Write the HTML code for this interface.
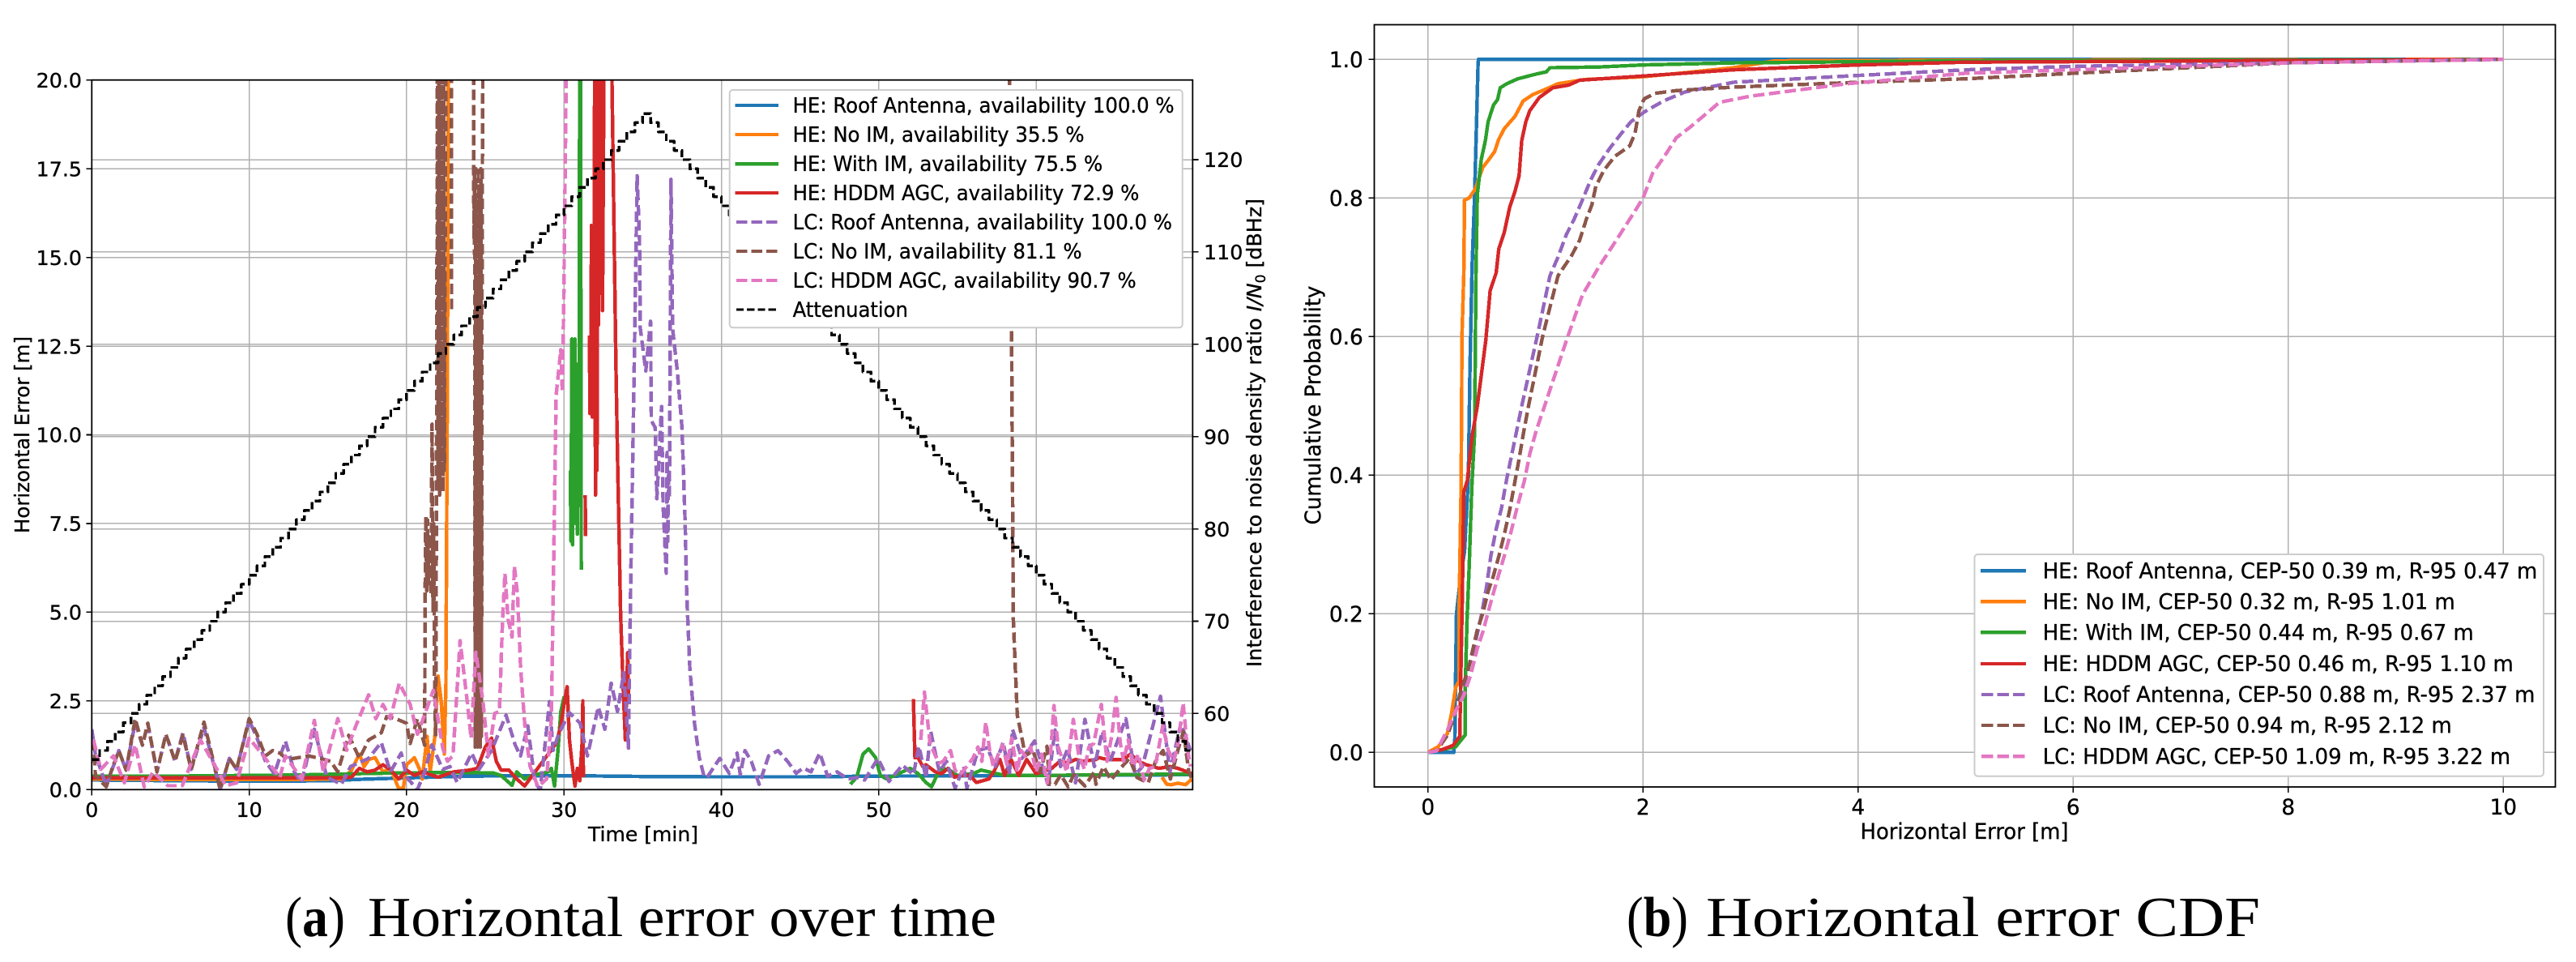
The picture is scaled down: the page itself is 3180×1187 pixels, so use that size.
<!DOCTYPE html>
<html lang="en">
<head>
<meta charset="utf-8">
<title>Horizontal error figures</title>
<style>
html,body{margin:0;padding:0;background:#fff;width:3180px;height:1187px;overflow:hidden}
svg{display:block}
text{font-family:"DejaVu Sans","Liberation Sans",sans-serif;fill:#000;stroke:#000;stroke-width:.35px}
.cap{font-family:"Liberation Serif",serif;stroke:none}
path,line{shape-rendering:crispEdges}
</style>
</head>
<body>
<svg id="fig" xmlns="http://www.w3.org/2000/svg" width="3180" height="1187" viewBox="0 0 3180 1187">
  <defs>
    <clipPath id="clipA"><rect x="113.3" y="98.7" width="1359" height="875.6"/></clipPath>
    <clipPath id="clipB"><rect x="1696.5" y="30.5" width="1458" height="940.5"/></clipPath>
  </defs>
  <g id="gridA"></g>
  <g id="gridB"></g>
  <g id="seriesA" clip-path="url(#clipA)" fill="none"></g>
  <g id="seriesB" clip-path="url(#clipB)" fill="none"></g>
  <g id="ticks"></g>

  <rect x="113.3" y="98.7" width="1359" height="875.6" fill="none" stroke="#000" stroke-width="1.8"/>
  <rect x="1696.5" y="30.5" width="1458" height="940.5" fill="none" stroke="#000" stroke-width="1.8"/>

  <text transform="translate(36,536.5) rotate(-90)" text-anchor="middle" font-size="25.3" textLength="243" lengthAdjust="spacingAndGlyphs">Horizontal Error [m]</text>
  <text x="794" y="1038" text-anchor="middle" font-size="25.3" textLength="136" lengthAdjust="spacingAndGlyphs">Time [min]</text>
  <text transform="translate(1557,534) rotate(-90)" text-anchor="middle" font-size="25.3">Interference to noise density ratio <tspan font-style="italic">I/N</tspan><tspan font-size="17" dy="5">0</tspan><tspan dy="-5"> [dBHz]</tspan></text>
  <text transform="translate(1630,500) rotate(-90)" text-anchor="middle" font-size="26.3" textLength="295" lengthAdjust="spacingAndGlyphs">Cumulative Probability</text>
  <text x="2425" y="1035" text-anchor="middle" font-size="26.3" textLength="257" lengthAdjust="spacingAndGlyphs">Horizontal Error [m]</text>

  <g>
    <rect x="900.7" y="111" width="559" height="293.3" rx="4" fill="#fff" stroke="#ccc" stroke-width="2"/>
    <g><line x1="907.5" x2="961" y1="130" y2="130" stroke="#1f77b4" stroke-width="4.4"/><text x="978.6" y="139" font-size="25.6" textLength="471" lengthAdjust="spacingAndGlyphs">HE: Roof Antenna, availability 100.0 %</text></g>
    <g><line x1="907.5" x2="961" y1="166" y2="166" stroke="#ff7f0e" stroke-width="4.4"/><text x="978.6" y="175" font-size="25.6" textLength="360" lengthAdjust="spacingAndGlyphs">HE: No IM, availability 35.5 %</text></g>
    <g><line x1="907.5" x2="961" y1="202.3" y2="202.3" stroke="#2ca02c" stroke-width="4.4"/><text x="978.6" y="211" font-size="25.6" textLength="382.6" lengthAdjust="spacingAndGlyphs">HE: With IM, availability 75.5 %</text></g>
    <g><line x1="907.5" x2="961" y1="238" y2="238" stroke="#d62728" stroke-width="4.4"/><text x="978.6" y="247" font-size="25.6" textLength="427.7" lengthAdjust="spacingAndGlyphs">HE: HDDM AGC, availability 72.9 %</text></g>
    <g><line x1="909" x2="960" y1="274" y2="274" stroke="#9467bd" stroke-width="4.4" stroke-dasharray="13.5 5"/><text x="978.6" y="283" font-size="25.6" textLength="468.4" lengthAdjust="spacingAndGlyphs">LC: Roof Antenna, availability 100.0 %</text></g>
    <g><line x1="909" x2="960" y1="310" y2="310" stroke="#8c564b" stroke-width="4.4" stroke-dasharray="13.5 5"/><text x="978.6" y="319" font-size="25.6" textLength="357" lengthAdjust="spacingAndGlyphs">LC: No IM, availability 81.1 %</text></g>
    <g><line x1="909" x2="960" y1="346" y2="346" stroke="#e377c2" stroke-width="4.4" stroke-dasharray="13.5 5"/><text x="978.6" y="355" font-size="25.6" textLength="424" lengthAdjust="spacingAndGlyphs">LC: HDDM AGC, availability 90.7 %</text></g>
    <g><line x1="909" x2="960" y1="382" y2="382" stroke="#000" stroke-width="3.4" stroke-dasharray="9.2 4"/><text x="978.6" y="391" font-size="25.6" textLength="142.3" lengthAdjust="spacingAndGlyphs">Attenuation</text></g>
  </g>

  <g>
    <rect x="2437.5" y="684" width="702.5" height="273.7" rx="4" fill="#fff" stroke="#ccc" stroke-width="2"/>
    <g><line x1="2444.8" x2="2501" y1="704.3" y2="704.3" stroke="#1f77b4" stroke-width="4.4"/><text x="2521.7" y="713.5" font-size="26.3" textLength="610.6" lengthAdjust="spacingAndGlyphs">HE: Roof Antenna, CEP-50 0.39 m, R-95 0.47 m</text></g>
    <g><line x1="2444.8" x2="2501" y1="742.3" y2="742.3" stroke="#ff7f0e" stroke-width="4.4"/><text x="2521.7" y="751.5" font-size="26.3" textLength="509" lengthAdjust="spacingAndGlyphs">HE: No IM, CEP-50 0.32 m, R-95 1.01 m</text></g>
    <g><line x1="2444.8" x2="2501" y1="780.3" y2="780.3" stroke="#2ca02c" stroke-width="4.4"/><text x="2521.7" y="789.5" font-size="26.3" textLength="532" lengthAdjust="spacingAndGlyphs">HE: With IM, CEP-50 0.44 m, R-95 0.67 m</text></g>
    <g><line x1="2444.8" x2="2501" y1="819" y2="819" stroke="#d62728" stroke-width="4.4"/><text x="2521.7" y="828" font-size="26.3" textLength="581" lengthAdjust="spacingAndGlyphs">HE: HDDM AGC, CEP-50 0.46 m, R-95 1.10 m</text></g>
    <g><line x1="2446" x2="2500" y1="857" y2="857" stroke="#9467bd" stroke-width="4.4" stroke-dasharray="14.5 5"/><text x="2521.7" y="866" font-size="26.3" textLength="607.7" lengthAdjust="spacingAndGlyphs">LC: Roof Antenna, CEP-50 0.88 m, R-95 2.37 m</text></g>
    <g><line x1="2446" x2="2500" y1="895" y2="895" stroke="#8c564b" stroke-width="4.4" stroke-dasharray="14.5 5"/><text x="2521.7" y="904" font-size="26.3" textLength="505" lengthAdjust="spacingAndGlyphs">LC: No IM, CEP-50 0.94 m, R-95 2.12 m</text></g>
    <g><line x1="2446" x2="2500" y1="933.3" y2="933.3" stroke="#e377c2" stroke-width="4.4" stroke-dasharray="14.5 5"/><text x="2521.7" y="942.5" font-size="26.3" textLength="577.4" lengthAdjust="spacingAndGlyphs">LC: HDDM AGC, CEP-50 1.09 m, R-95 3.22 m</text></g>
  </g>

  <g>
    <text class="cap" x="352" y="1155" font-size="70" textLength="74" lengthAdjust="spacingAndGlyphs">(<tspan font-weight="bold">a</tspan>)</text>
    <text class="cap" x="454" y="1155" font-size="70" textLength="776" lengthAdjust="spacingAndGlyphs">Horizontal error over time</text>
  </g>
  <g>
    <text class="cap" x="2008" y="1155" font-size="70" textLength="76" lengthAdjust="spacingAndGlyphs">(<tspan font-weight="bold">b</tspan>)</text>
    <text class="cap" x="2106" y="1155" font-size="70" textLength="684" lengthAdjust="spacingAndGlyphs">Horizontal error CDF</text>
  </g>
</svg>

<script>
/* ---------- Panel (a): tick labels ---------- */
const timeTicks = [0, 10, 20, 30, 40, 50, 60];
const errorTicks = [0, 2.5, 5, 7.5, 10, 12.5, 15, 17.5, 20];
const errorTickLabels = ['0.0', '2.5', '5.0', '7.5', '10.0', '12.5', '15.0', '17.5', '20.0'];
const dbTicks = [60, 70, 80, 90, 100, 110, 120];

/* ---------- Panel (a): series (null = outage) ---------- */
const heRoofTime = [0, 3, 6, 9, 12, 15, 17, 20, 23, 26, 29, 31, 35, 40, 45, 50, 55, 60, 65, 69.9];
const heRoofError = [0.27, 0.26, 0.25, 0.24, 0.24, 0.25, 0.29, 0.33, 0.37, 0.39, 0.39, 0.39, 0.37, 0.36, 0.36, 0.38, 0.39, 0.4, 0.41, 0.42];

const heNoImTime = [0, 4, 8, 12, 16, 16.5, 17, 17.3, 17.6, 18, 18.5, 19, 19.3, 19.5, 19.8, 20, 20.5, 20.8, 21, 21.3, 21.5, 21.8, 22, 22.2, 22.4, 22.5, 22.6, 22.65, 22.7, 68, 68.3, 68.6, 69, 69.5, 69.9];
const heNoImError = [0.3, 0.29, 0.28, 0.28, 0.3, 0.55, 1.0, 0.65, 0.85, 0.9, 0.5, 0.6, 0.25, 0.03, 0.05, 0.7, 0.9, 0.6, 0.3, 1.5, 0.5, 1.5, 3.2, 2.5, 1.0, 3, 12, 21, null, 0.35, 0.15, 0.14, 0.18, 0.14, 0.3];

const heWithImTime = [0, 5, 10, 14, 16, 18, 20, 22, 24, 25.5, 26, 26.7, 27, 27.5, 28, 29, 29.2, 29.4, 29.6, 29.8, 30, 30.1, 30.2, 30.4, 30.45, 30.5, 30.55, 30.6, 30.65, 30.7, 30.75, 30.8, 30.85, 30.9, 30.95, 31.0, 31.05, 31.1, 31.15, 48.2, 48.6, 49, 49.36, 49.8, 50.1, 50.5, 51, 52, 52.5, 53, 53.35, 53.7, 54, 54.5, 55, 56, 56.5, 57, 58, 60, 65, 69.9];
const heWithImError = [0.38, 0.38, 0.4, 0.42, 0.44, 0.46, 0.47, 0.48, 0.48, 0.47, 0.4, 0.12, 0.5, 0.3, 0.4, 0.5, 0.6, 0.1, 1.0, 2.2, 2.6, 2.4, null, 9, 7, 12.7, 6.9, 12.5, 8, 12.7, 7.5, 10, 7.2, 12, 8, 20.5, 21, 6.2, null, 0.15, 0.35, 1.0, 1.15, 0.9, 0.4, 0.3, 0.4, 0.6, 0.45, 0.2, 0.08, 0.4, 0.6, 0.55, 0.4, 0.45, 0.55, 0.5, 0.4, 0.4, 0.42, 0.44];

const heHddmTime = [0, 4, 8, 12, 16, 16.5, 17, 17.5, 18, 18.5, 19, 19.5, 20, 20.5, 21, 22, 23, 24, 24.5, 25, 25.4, 25.7, 26, 26.5, 27, 27.5, 28, 28.5, 29, 29.5, 29.8, 30, 30.2, 30.35, 30.5, 30.7, 30.85, 31.0, 31.15, 31.2, 31.22, 31.25, 31.33, 31.35, 31.37, 31.6, 31.62, 31.65, 31.7, 31.75, 31.8, 31.85, 31.9, 31.95, 32.0, 32.05, 32.1, 32.15, 32.2, 32.25, 32.3, 32.35, 32.45, 32.55, 33.0, 33.05, 33.3, 33.42, 33.6, 33.75, 33.9, 34.05, 34.1, 34.15, 52.2, 52.3, 52.5, 52.8, 53, 53.6, 54, 54.4, 54.8, 55.2, 55.8, 56.2, 57, 57.3, 57.7, 58, 58.4, 58.9, 59.4, 60, 61, 61.5, 62, 62.5, 63, 63.8, 64, 64.5, 65.5, 66, 66.5, 67, 67.8, 68.5, 69, 69.9];
const heHddmError = [0.33, 0.33, 0.33, 0.33, 0.33, 0.35, 0.6, 0.5, 0.55, 0.7, 0.55, 0.3, 0.55, 0.4, 0.5, 0.35, 0.5, 0.55, 0.6, 1.2, 1.45, 0.8, 0.55, 0.55, 0.3, 0.1, 0.4, 0.7, 1.0, 1.3, 1.8, 2.4, 2.9, 1.4, 0.78, 0.1, 0.6, 0.25, 1.3, 2.5, 0.8, 0.35, null, 8.3, 7.15, null, 12.8, 10.6, 11.5, 15.9, 10.5, 15.8, 11, 20.5, 8.3, 20.5, 9, 20.5, 13.1, 20.5, 21, 20.5, 13.5, 21, 21, 20, 12, 9, 4.94, 3, 1.4, 3.86, 2.6, null, 2.55, 0.9, 0.9, 0.65, 0.7, 0.5, 0.45, 0.6, 0.35, 0.4, 0.4, 0.2, 0.3, 0.5, 0.85, 0.4, 0.85, 0.4, 0.85, 0.45, 0.6, 0.8, 0.75, 0.85, 0.8, 0.85, 0.9, 0.85, 0.85, 1.0, 0.8, 0.7, 0.6, 0.65, 0.6, 0.45];

const lcRoofTime = [0, 0.23, 0.92, 1.72, 2.18, 2.76, 3.22, 3.56, 4.14, 4.71, 5.29, 5.79, 6.32, 7.13, 8.05, 8.16, 8.74, 9.2, 10, 10.46, 11.03, 11.6, 12.3, 12.87, 13.33, 14.14, 14.94, 15.86, 16.44, 17.59, 18.39, 18.97, 19.66, 20, 20.69, 21.15, 21.61, 22.3, 22.76, 23.22, 24.14, 24.6, 25.4, 26.32, 26.9, 27.24, 27.7, 28.16, 28.5, 29.08, 29.31, 29.66, 30.34, 31.03, 31.49, 32.18, 32.6, 33, 33.4, 33.8, 34.1, 34.25, 34.45, 34.65, 34.8, 34.85, 35.2, 35.5, 35.55, 35.8, 35.9, 36.2, 36.3, 36.5, 36.55, 36.6, 36.65, 36.7, 36.8, 36.9, 37.2, 37.5, 37.7, 37.8, 38, 38.3, 38.6, 38.9, 39.1, 39.9, 40.5, 41, 41.2, 41.5, 41.9, 42.4, 43, 43.6, 44.2, 44.75, 45.2, 45.7, 46.25, 46.75, 47.35, 48.05, 48.65, 49.1, 49.95, 50.65, 51.5, 52.2, 52.55, 53, 53.3, 53.85, 54.3, 54.85, 55.4, 55.6, 56.3, 56.9, 57.4, 57.9, 58.3, 58.5, 59.1, 59.9, 60.75, 61.2, 61.55, 62, 62.5, 63.1, 63.7, 64.2, 64.7, 65.7, 66.3, 66.75, 67.9, 68.5, 69.2, 69.8];
const lcRoofError = [1.7, 1.0, 0.1, 1.1, 0.55, 1.9, 1.25, 1.85, 0.5, 1.56, 0.8, 1.6, 0.57, 1.75, 0.2, 0, 0.88, 0.57, 1.95, 1.5, 0.8, 0.45, 1.37, 0.5, 0.2, 1.7, 0.35, 0.15, 0.65, 0.88, 1.33, 0.5, 1.03, 0.35, 0, 0.5, 1.26, 0.57, 0.65, 0.2, 1.03, 0.57, 1.1, 2.1, 1.26, 0.95, 1.8, 0.2, 0, 2.48, 1.1, 1.56, 2.17, 1.87, 0.95, 2.33, 1.7, 3.0, 2.2, 3.3, 1.17, 6.1, 11.5, 17.3, 15.5, 13, 11.8, 13.2, 10.4, 10.2, 8.2, 10.8, 8, 6.1, 9.5, 7, 9, 8.2, 17.2, 13, 11.8, 10.2, 7.5, 5.5, 3.4, 1.85, 0.9, 0.37, 0.35, 0.88, 0.46, 1.03, 0.42, 1.1, 0.8, 0.15, 0.95, 1.1, 0.8, 0.46, 0.61, 0.5, 1.03, 0.38, 0.5, 0.3, 0.34, 0.27, 0.88, 0.23, 0.69, 0.42, 1.22, 0.34, 1.64, 0.5, 0.8, 0.04, 0.65, 0.04, 1.1, 1.18, 0.65, 1.34, 0.42, 1.7, 0.88, 1.37, 0.15, 1.68, 0.65, 1.15, 0.19, 1.98, 0.65, 1.64, 0.8, 2.0, 0.42, 0.65, 2.63, 0.5, 1.87, 1.1];

const lcNoImTime = [0.11, 0.23, 0.92, 1.3, 1.72, 2.18, 2.76, 3.22, 3.56, 4.14, 4.71, 5.29, 5.79, 6.32, 7.13, 8.05, 8.16, 8.74, 9.2, 10, 10.46, 11.03, 11.49, 11.95, 12.41, 13.1, 13.79, 14.48, 15.17, 15.63, 16.32, 17.01, 17.59, 18.39, 18.74, 19.31, 20, 20.23, 20.69, 21.15, 21.18, 21.22, 21.28, 21.33, 21.4, 21.48, 21.55, 21.62, 21.68, 21.72, 21.78, 21.85, 21.9, 21.96, 22.0, 22.05, 22.1, 22.15, 22.2, 22.25, 22.3, 22.35, 22.4, 22.5, 22.85, 22.86, 22.9, 24.25, 24.28, 24.32, 24.36, 24.4, 24.44, 24.48, 24.52, 24.56, 24.6, 24.64, 24.68, 24.72, 24.76, 24.8, 24.85, 24.9, 58.3, 58.45, 58.55, 58.8, 59.08, 59.31, 59.79, 60.26, 60.69, 60.85, 61.2, 61.56, 62.03, 62.39, 63.1, 63.69, 63.8, 64.28, 64.75, 65.46, 65.93, 66.41, 67.12, 67.59, 68.06, 68.53, 69.0, 69.36, 69.7, 69.9];
const lcNoImError = [1.4, 0.4, 0.08, 0.6, 1.1, 0.55, 2.0, 1.25, 1.87, 0.5, 1.56, 0.8, 1.53, 0.57, 1.9, 0.2, 0, 0.88, 0.57, 2.0, 1.6, 0.95, 1.1, 1.03, 0.85, 0.9, 0.95, 0.88, 0.8, 0.5, 1.53, 0.88, 1.4, 1.6, 2.06, 2.0, 1.87, 1.3, 2.0, 1.25, 5.5, 7.7, 5.6, 7.6, 5.8, 7.2, 5.5, 10.3, 5, 7.5, 3, 1.5, 8.3, 20.5, 8.5, 20.5, 8.3, 20.5, 9, 20.5, 8.4, 20.5, 9, 21, 21, 13.5, null, 21, 15.5, 17.5, 1.2, 17.5, 1.5, 16.5, 1.2, 17.5, 1.3, 17, 1.2, 17.5, 1.5, 16, 20.5, null, 21, 12, 4.8, 2.1, 1.5, 0.95, 1.1, 0.5, 1.22, 0.15, 0.15, 0.42, 0.08, 0.42, 0.1, 0.5, 0.15, 0.65, 0.27, 0.65, 0.88, 0.34, 0.19, 0.8, 1.1, 0.3, 1.1, 1.64, 0.5, 0.3];

const lcHddmTime = [0.11, 0.57, 1.38, 2.07, 2.76, 3.33, 3.9, 4.83, 5.75, 6.9, 8.05, 8.5, 9.2, 10, 11.03, 11.95, 12.3, 13.33, 14.14, 14.71, 15.63, 16.2, 16.78, 17.59, 18.05, 18.5, 18.97, 19.54, 20.23, 20.69, 21.26, 21.7, 22.3, 22.6, 22.95, 23.4, 23.85, 24.1, 24.4, 24.85, 25.2, 25.6, 25.9, 26.1, 26.25, 26.45, 26.7, 26.85, 27.05, 27.25, 27.55, 27.85, 28.35, 28.9, 29.2, 29.4, 29.5, 29.8, 29.9, 30, 30.15, 30.2, 52.67, 52.9, 53.26, 53.6, 53.85, 54.1, 54.56, 54.85, 55.15, 55.5, 55.98, 56.3, 56.55, 56.8, 57.05, 57.28, 57.6, 57.87, 58.15, 58.45, 58.8, 59.05, 59.3, 59.65, 60, 60.35, 60.7, 60.9, 61.13, 61.4, 61.65, 61.95, 62.36, 62.7, 63.07, 63.35, 63.66, 64.14, 64.5, 64.8, 65.08, 65.35, 65.56, 65.85, 66.15, 66.5, 66.86, 67.2, 67.57, 68.04, 68.4, 68.75, 69.05, 69.34, 69.6, 69.8];
const lcHddmError = [1.4, 0.57, 0.95, 0.19, 1.26, 0.08, 0.5, 0.11, 0.11, 1.4, 0.5, 0.11, 0.19, 1.45, 0.88, 0.34, 0.95, 0.3, 1.95, 0.5, 2.0, 1.11, 1.8, 2.67, 2.0, 2.4, 2.0, 3.0, 2.4, 1.56, 2.25, 2.8, 1.17, 0.8, 0.95, 4.2, 2.5, 1.45, 3.87, 2.5, 0.95, 2.15, 2.2, 4.8, 6.1, 4.8, 4.3, 6.3, 5.5, 3.4, 1.6, 0.65, 0.08, 0.3, 2.0, 8, 11.1, 12.4, 11.2, 14.2, 20.5, null, 1.4, 2.75, 1.3, 0.95, 0.75, 0.8, 1.1, 0.55, 0.42, 0.6, 0.88, 1.2, 0.8, 1.9, 1.1, 0.65, 1.0, 1.26, 0.7, 1.45, 0.5, 1.1, 0.95, 1.2, 0.5, 1.0, 0.19, 0.9, 2.37, 1.2, 0.88, 0.5, 1.98, 1.0, 0.57, 1.2, 1.3, 2.4, 0.8, 1.5, 2.6, 1.3, 0.8, 1.4, 0.65, 1.0, 0.27, 0.6, 0.65, 1.8, 1.1, 0.8, 1.4, 2.44, 1.2, 0.65];

const attenuationTime = [0,0.5,1,1.5,2,2.5,3,3.5,4,4.5,5,5.5,6,6.5,7,7.5,8,8.5,9,9.5,10,10.5,11,11.5,12,12.5,13,13.5,14,14.5,15,15.5,16,16.5,17,17.5,18,18.5,19,19.5,20,20.5,21,21.5,22,22.5,23,23.5,24,24.5,25,25.5,26,26.5,27,27.5,28,28.5,29,29.5,30,30.5,31,31.5,32,32.5,33,33.5,34,34.5,35,35.5,36,36.5,37,37.5,38,38.5,39,39.5,40,40.5,41,41.5,42,42.5,43,43.5,44,44.5,45,45.5,46,46.5,47,47.5,48,48.5,49,49.5,50,50.5,51,51.5,52,52.5,53,53.5,54,54.5,55,55.5,56,56.5,57,57.5,58,58.5,59,59.5,60,60.5,61,61.5,62,62.5,63,63.5,64,64.5,65,65.5,66,66.5,67,67.5,68,68.5,69,69.5,70];
const attenuationDb = [55,56,57,58,59,60,61,62,63,64,65,66,67,68,69,70,71,72,73,74,75,76,77,78,79,80,81,82,83,84,85,86,87,88,89,90,91,92,93,94,95,96,97,98,99,100,101,102,103,104,105,106,107,108,109,110,111,112,113,114,115,116,117,118,119,120,121,122,123,124,125,124,123,122,121,120,119,118,117,116,115,114,113,112,111,110,109,108,107,106,105,104,103,102,101,100,99,98,97,96,95,94,93,92,91,90,89,88,87,86,85,84,83,82,81,80,79,78,77,76,75,74,73,72,71,70,69,68,67,66,65,64,63,62,61,60,59,58,57,56,55];

/* ---------- Panel (b): tick labels ---------- */
const cdfErrorTicks = [0, 2, 4, 6, 8, 10];
const cdfProbTicks = [0, 0.2, 0.4, 0.6, 0.8, 1.0];
const cdfProbTickLabels = ['0.0', '0.2', '0.4', '0.6', '0.8', '1.0'];

/* ---------- Panel (b): CDF curves ---------- */
const cdfHeRoofX = [0, 0.24, 0.25, 0.255, 0.265, 0.3, 0.34, 0.36, 0.376, 0.39, 0.41, 0.433, 0.45, 0.466, 0.47, 10];
const cdfHeRoofP = [0, 0, 0.02, 0.09, 0.2, 0.25, 0.29, 0.35, 0.4, 0.55, 0.7, 0.8, 0.9, 0.995, 1, 1];

const cdfHeNoImX = [0, 0.095, 0.18, 0.22, 0.258, 0.29, 0.29, 0.308, 0.313, 0.316, 0.333, 0.34, 0.383, 0.44, 0.509, 0.559, 0.62, 0.659, 0.709, 0.81, 0.885, 0.972, 1.11, 1.21, 1.46, 2.0, 2.34, 2.84, 3.23, 5, 10];
const cdfHeNoImP = [0, 0.008, 0.027, 0.057, 0.094, 0.103, 0.21, 0.384, 0.5, 0.6, 0.69, 0.797, 0.8, 0.813, 0.844, 0.854, 0.867, 0.885, 0.9, 0.918, 0.94, 0.949, 0.958, 0.965, 0.971, 0.975, 0.98, 0.988, 0.998, 0.999, 1];

const cdfHeWithImX = [0, 0.258, 0.346, 0.346, 0.363, 0.383, 0.408, 0.434, 0.446, 0.459, 0.496, 0.534, 0.559, 0.609, 0.647, 0.672, 0.734, 0.835, 1.01, 1.1, 1.135, 1.586, 2, 2.84, 5, 10];
const cdfHeWithImP = [0, 0.008, 0.025, 0.09, 0.19, 0.267, 0.384, 0.462, 0.688, 0.805, 0.856, 0.883, 0.91, 0.934, 0.942, 0.959, 0.965, 0.972, 0.979, 0.982, 0.988, 0.989, 0.992, 0.995, 0.998, 1];

const cdfHeHddmX = [0, 0.133, 0.233, 0.296, 0.303, 0.32, 0.333, 0.366, 0.408, 0.459, 0.538, 0.578, 0.634, 0.659, 0.709, 0.759, 0.81, 0.847, 0.872, 0.91, 0.947, 1.035, 1.16, 1.31, 1.41, 2, 2.84, 4, 5, 10];
const cdfHeHddmP = [0, 0.004, 0.01, 0.023, 0.09, 0.228, 0.376, 0.392, 0.454, 0.5, 0.595, 0.666, 0.692, 0.727, 0.75, 0.786, 0.81, 0.832, 0.883, 0.91, 0.926, 0.945, 0.959, 0.963, 0.97, 0.976, 0.985, 0.992, 0.996, 1];

const cdfLcRoofX = [0, 0.08, 0.183, 0.245, 0.308, 0.358, 0.434, 0.496, 0.546, 0.584, 0.634, 0.684, 0.734, 0.797, 0.872, 1.015, 1.135, 1.21, 1.286, 1.361, 1.436, 1.51, 1.586, 1.687, 1.787, 1.887, 2.01, 2.19, 2.39, 2.84, 3.9, 5, 6, 10];
const cdfLcRoofP = [0, 0.002, 0.025, 0.053, 0.084, 0.111, 0.154, 0.197, 0.24, 0.283, 0.322, 0.353, 0.396, 0.443, 0.5, 0.6, 0.688, 0.715, 0.747, 0.77, 0.797, 0.825, 0.848, 0.871, 0.891, 0.91, 0.924, 0.94, 0.953, 0.967, 0.976, 0.985, 0.99, 1];

const cdfLcNoImX = [0, 0.08, 0.183, 0.245, 0.308, 0.37, 0.408, 0.459, 0.509, 0.559, 0.609, 0.659, 0.709, 0.759, 0.81, 0.847, 0.885, 0.935, 1.066, 1.15, 1.21, 1.336, 1.41, 1.474, 1.524, 1.561, 1.636, 1.737, 1.875, 1.925, 1.962, 2.01, 2.11, 2.31, 2.84, 4, 5, 6, 8, 10];
const cdfLcNoImP = [0, 0.002, 0.025, 0.053, 0.09, 0.117, 0.142, 0.177, 0.2, 0.232, 0.255, 0.283, 0.314, 0.349, 0.392, 0.423, 0.458, 0.5, 0.6, 0.652, 0.688, 0.717, 0.739, 0.77, 0.79, 0.817, 0.84, 0.86, 0.875, 0.893, 0.926, 0.943, 0.951, 0.955, 0.96, 0.967, 0.972, 0.98, 0.995, 1];

const cdfLcHddmX = [0, 0.08, 0.183, 0.258, 0.333, 0.396, 0.459, 0.509, 0.571, 0.634, 0.709, 0.772, 0.835, 0.897, 0.947, 1.01, 1.085, 1.3, 1.436, 1.587, 1.755, 1.92, 2, 2.09, 2.19, 2.31, 2.44, 2.59, 2.71, 2.84, 3, 3.9, 5, 6, 8, 10];
const cdfLcHddmP = [0, 0.002, 0.033, 0.06, 0.082, 0.111, 0.15, 0.173, 0.209, 0.244, 0.283, 0.318, 0.357, 0.392, 0.431, 0.466, 0.5, 0.6, 0.66, 0.7, 0.74, 0.78, 0.8, 0.836, 0.858, 0.887, 0.9025, 0.922, 0.938, 0.942, 0.947, 0.965, 0.98, 0.985, 0.995, 1];

/* ---------- Axis functions ---------- */
function xTime(t) { return 113.3 + t * 19.43; }
function yError(v) { return 974.3 - v * 43.78; }
function yDb(d) { return 880.4 - (d - 60) * 11.39; }
function xCdf(e) { return 1762.8 + e * 132.75; }
function yCdf(p) { return 928.3 - p * 855; }

const NS = 'http://www.w3.org/2000/svg';

function linePath(xs, ys, fx, fy) {
  let d = '';
  let pen = false;
  for (let i = 0; i < xs.length; i++) {
    if (ys[i] === null) { pen = false; continue; }
    d += (pen ? 'L' : 'M') + fx(xs[i]).toFixed(2) + ' ' + fy(ys[i]).toFixed(2);
    pen = true;
  }
  return d;
}

function stairPath(xs, ys, fx, fy) {
  let d = 'M' + fx(xs[0]).toFixed(2) + ' ' + fy(ys[0]).toFixed(2);
  for (let i = 1; i < xs.length; i++) {
    d += 'H' + fx(xs[i]).toFixed(2) + 'V' + fy(ys[i]).toFixed(2);
  }
  return d;
}

function addPath(parentId, name, d, color, width, dash) {
  const el = document.createElementNS(NS, 'path');
  
  
  el.setAttribute('d', d);
  el.setAttribute('stroke', color);
  el.setAttribute('stroke-width', width);
  el.setAttribute('stroke-linejoin', 'round');
  if (dash) { el.setAttribute('stroke-dasharray', dash); }
  document.getElementById(parentId).appendChild(el);
}

function addRule(parentId, name, x1, y1, x2, y2, color, width) {
  const el = document.createElementNS(NS, 'line');
  
  
  el.setAttribute('x1', x1);
  el.setAttribute('y1', y1);
  el.setAttribute('x2', x2);
  el.setAttribute('y2', y2);
  el.setAttribute('stroke', color);
  el.setAttribute('stroke-width', width);
  document.getElementById(parentId).appendChild(el);
}

function addLabel(name, x, y, anchor, size, label) {
  const el = document.createElementNS(NS, 'text');
  
  
  el.setAttribute('x', x);
  el.setAttribute('y', y);
  el.setAttribute('text-anchor', anchor);
  el.setAttribute('font-size', size);
  el.textContent = label;
  document.getElementById('ticks').appendChild(el);
}

const GRID = '#b0b0b0';

/* Panel (a) grid, ticks, labels */
timeTicks.forEach(function (t) {
  addRule('gridA', 'time-gridline', xTime(t), 98.7, xTime(t), 974.3, GRID, 1.5);
  addRule('ticks', 'time-tick', xTime(t), 974.3, xTime(t), 981.3, '#000', 1.6);
  addLabel('time-tick-label', xTime(t), 1008, 'middle', 25.3, String(t));
});
errorTicks.forEach(function (v, i) {
  addRule('gridA', 'error-gridline', 113.3, yError(v), 1472.3, yError(v), GRID, 1.5);
  addRule('ticks', 'error-tick', 106.3, yError(v), 113.3, yError(v), '#000', 1.6);
  addLabel('error-tick-label', 101, yError(v) + 9.2, 'end', 25.3, errorTickLabels[i]);
});
dbTicks.forEach(function (d) {
  addRule('gridA', 'interference-gridline', 113.3, yDb(d), 1472.3, yDb(d), GRID, 1.5);
  addRule('ticks', 'interference-tick', 1472.3, yDb(d), 1479.3, yDb(d), '#000', 1.6);
  addLabel('interference-tick-label', 1486, yDb(d) + 9.2, 'start', 25.3, String(d));
});

/* Panel (b) grid, ticks, labels */
cdfErrorTicks.forEach(function (e) {
  addRule('gridB', 'cdf-error-gridline', xCdf(e), 30.5, xCdf(e), 971, GRID, 1.5);
  addRule('ticks', 'cdf-error-tick', xCdf(e), 971, xCdf(e), 978, '#000', 1.6);
  addLabel('cdf-error-tick-label', xCdf(e), 1005, 'middle', 26.3, String(e));
});
cdfProbTicks.forEach(function (p, i) {
  addRule('gridB', 'cdf-probability-gridline', 1696.5, yCdf(p), 3154.5, yCdf(p), GRID, 1.5);
  addRule('ticks', 'cdf-probability-tick', 1689.5, yCdf(p), 1696.5, yCdf(p), '#000', 1.6);
  addLabel('cdf-probability-tick-label', 1682.7, yCdf(p) + 9.5, 'end', 26.3, cdfProbTickLabels[i]);
});

/* Panel (a) series */
const SOLID = 4.4;
const DASH = '13 5.6';
addPath('seriesA', 'he-roof-antenna-line', linePath(heRoofTime, heRoofError, xTime, yError), '#1f77b4', SOLID);
addPath('seriesA', 'he-no-im-line', linePath(heNoImTime, heNoImError, xTime, yError), '#ff7f0e', SOLID);
addPath('seriesA', 'he-with-im-line', linePath(heWithImTime, heWithImError, xTime, yError), '#2ca02c', SOLID);
addPath('seriesA', 'he-hddm-agc-line', linePath(heHddmTime, heHddmError, xTime, yError), '#d62728', SOLID);
addPath('seriesA', 'lc-roof-antenna-line', linePath(lcRoofTime, lcRoofError, xTime, yError), '#9467bd', SOLID, DASH);
addPath('seriesA', 'lc-no-im-line', linePath(lcNoImTime, lcNoImError, xTime, yError), '#8c564b', SOLID, DASH);
addPath('seriesA', 'lc-hddm-agc-line', linePath(lcHddmTime, lcHddmError, xTime, yError), '#e377c2', SOLID, DASH);
addPath('seriesA', 'attenuation-line', stairPath(attenuationTime, attenuationDb, xTime, yDb), '#000', 3.4, '9.2 4');

/* Panel (b) series */
const CDASH = '14 5.6';
addPath('seriesB', 'cdf-he-roof-antenna-line', linePath(cdfHeRoofX, cdfHeRoofP, xCdf, yCdf), '#1f77b4', SOLID);
addPath('seriesB', 'cdf-he-no-im-line', linePath(cdfHeNoImX, cdfHeNoImP, xCdf, yCdf), '#ff7f0e', SOLID);
addPath('seriesB', 'cdf-he-with-im-line', linePath(cdfHeWithImX, cdfHeWithImP, xCdf, yCdf), '#2ca02c', SOLID);
addPath('seriesB', 'cdf-he-hddm-agc-line', linePath(cdfHeHddmX, cdfHeHddmP, xCdf, yCdf), '#d62728', SOLID);
addPath('seriesB', 'cdf-lc-roof-antenna-line', linePath(cdfLcRoofX, cdfLcRoofP, xCdf, yCdf), '#9467bd', SOLID, CDASH);
addPath('seriesB', 'cdf-lc-no-im-line', linePath(cdfLcNoImX, cdfLcNoImP, xCdf, yCdf), '#8c564b', SOLID, CDASH);
addPath('seriesB', 'cdf-lc-hddm-agc-line', linePath(cdfLcHddmX, cdfLcHddmP, xCdf, yCdf), '#e377c2', SOLID, CDASH);
</script>
</body>
</html>
